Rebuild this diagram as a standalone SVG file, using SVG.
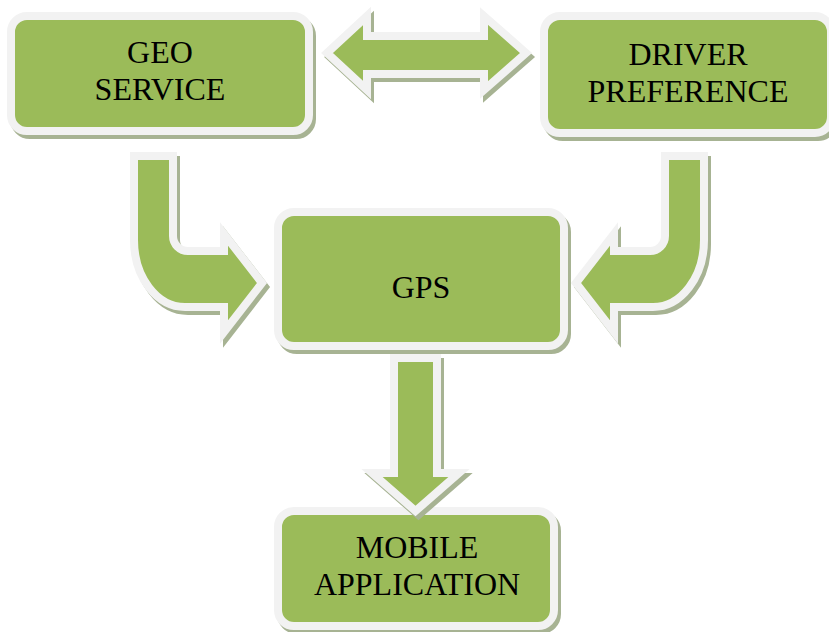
<svg xmlns="http://www.w3.org/2000/svg" xmlns:xlink="http://www.w3.org/1999/xlink" width="829" height="632" viewBox="0 0 829 632">
  <style>
    .shape { fill: #9bbb59; stroke: #f2f2f2; stroke-width: 8; stroke-linejoin: miter; stroke-miterlimit: 10; }
    .shadow { fill: #a7b393; stroke: #a7b393; stroke-width: 8; stroke-linejoin: miter; stroke-miterlimit: 10; }
    .label { font-family: "Liberation Serif", "Times New Roman", serif; font-size: 32px; fill: #000000; text-anchor: middle; }
  </style>
  <defs>
    <rect id="geoShape" x="11" y="16" width="298" height="115" rx="16" ry="16"/>
    <rect id="driverShape" x="544" y="16" width="287" height="117" rx="16" ry="16"/>
    <rect id="gpsShape" x="278" y="212" width="286" height="134" rx="16" ry="16"/>
    <rect id="mobileShape" x="278" y="511" width="276" height="115" rx="16" ry="16"/>
    <path id="dblArrow" d="M327,53 L367,16 L367,36 L484,36 L484,16 L526,53 L484,90 L484,74 L367,74 L367,90 Z"/>
    <path id="leftBent" d="M134,156 L173,156 L173,236 A15,15 0 0 0 188,251 L224,251 L224,234 L262,283 L224,332 L224,307 L185,307 A51,67 0 0 1 134,240 Z"/>
    <path id="rightBent" d="M704,156 L665,156 L665,236 A15,15 0 0 1 650,251 L614,251 L614,234 L576,283 L614,332 L614,307 L653,307 A51,67 0 0 0 704,240 Z"/>
    <path id="downArrow" d="M394,358 L437,358 L437,473 L459,473 L415.5,511 L372,473 L394,473 Z"/>
  </defs>

  <g id="geo-service">
    <use xlink:href="#geoShape" class="shadow" transform="translate(3,4)"/>
    <use xlink:href="#geoShape" class="shape"/>
    <text class="label" x="160" y="63">GEO</text>
    <text class="label" x="160" y="100">SERVICE</text>
  </g>

  <g id="driver-preference">
    <use xlink:href="#driverShape" class="shadow" transform="translate(3,4)"/>
    <use xlink:href="#driverShape" class="shape"/>
    <text class="label" x="688" y="65">DRIVER</text>
    <text class="label" x="688" y="102">PREFERENCE</text>
  </g>

  <g id="gps">
    <use xlink:href="#gpsShape" class="shadow" transform="translate(3,4)"/>
    <use xlink:href="#gpsShape" class="shape"/>
    <text class="label" x="421" y="298">GPS</text>
  </g>

  <g id="mobile-application">
    <use xlink:href="#mobileShape" class="shadow" transform="translate(3,4)"/>
    <use xlink:href="#mobileShape" class="shape"/>
    <text class="label" x="417" y="558">MOBILE</text>
    <text class="label" x="417" y="595">APPLICATION</text>
  </g>

  <g id="connectors">
    <use xlink:href="#dblArrow" class="shadow" transform="translate(3,4)"/>
    <use xlink:href="#dblArrow" class="shape"/>
    <use xlink:href="#leftBent" class="shadow" transform="translate(3,4)"/>
    <use xlink:href="#leftBent" class="shape"/>
    <use xlink:href="#rightBent" class="shadow" transform="translate(3,4)"/>
    <use xlink:href="#rightBent" class="shape"/>
    <use xlink:href="#downArrow" class="shadow" transform="translate(3,4)"/>
    <use xlink:href="#downArrow" class="shape"/>
  </g>
</svg>
